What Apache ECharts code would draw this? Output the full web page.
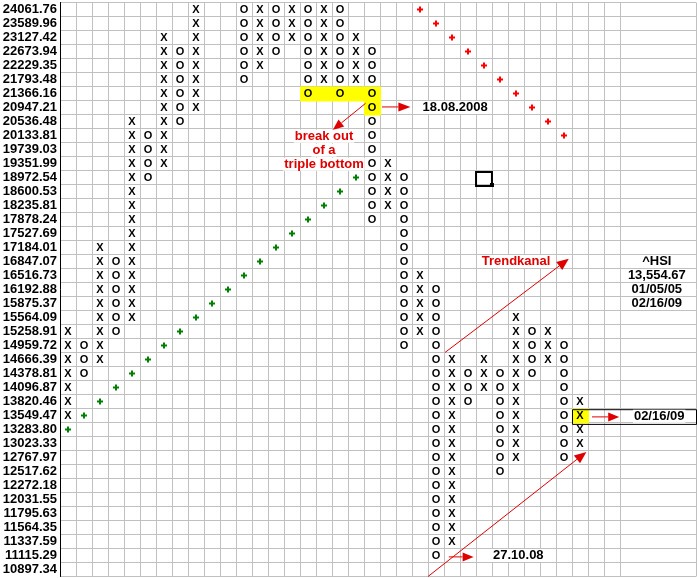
<!DOCTYPE html>
<html><head><meta charset="utf-8">
<script src="https://cdn.jsdelivr.net/npm/echarts@6/dist/echarts.min.js"></script>
<style>html,body{margin:0;padding:0;background:#fff}#c{width:697px;height:578px}</style>
</head><body><div id="c"></div>
<script>
// ---- tick labels (box prices, top to bottom) ----
const priceLabels = ['24061.76','23589.96','23127.42','22673.94','22229.35','21793.48','21366.16','20947.21','20536.48','20133.81','19739.03','19351.99','18972.54','18600.53','18235.81','17878.24','17527.69','17184.01','16847.07','16516.73','16192.88','15875.37','15564.09','15258.91','14959.72','14666.39','14378.81','14096.87','13820.46','13549.47','13283.80','13023.33','12767.97','12517.62','12272.18','12031.55','11795.63','11564.35','11337.59','11115.29','10897.34'];

// ---- point & figure columns ----
const colTypes = ['X','O','X','O','X','O','X','O','X',null,null,'O','X','O','X','O','X','O','X','O','X','O','X','O','X','O','X','O','X','O','X','O','X',null,null];
const colHigh  = ['15258.91','14959.72','17184.01','16847.07','20536.48','20133.81','23127.42','22673.94','24061.76',null,null,'24061.76','24061.76','24061.76','24061.76','24061.76','24061.76','24061.76','23127.42','22673.94','19351.99','18972.54','16516.73','16192.88','14666.39','14378.81','14666.39','14378.81','15564.09','15258.91','15258.91','14959.72','13820.46',null,null];
const colLow   = ['13549.47','14378.81','14666.39','15258.91','15564.09','18972.54','19351.99','20536.48','20947.21',null,null,'21793.48','22229.35','22673.94','23127.42','21366.16','21793.48','21366.16','21793.48','17878.24','18235.81','14959.72','15258.91','11115.29','11337.59','13820.46','14096.87','12517.62','12767.97','14378.81','14666.39','12767.97','13023.33',null,null];

// ---- trend lines of "+" marks ----
const greenPlusCols = [0,1,2,3,4,5,6,7,8,9,10,11,12,13,14,15,16,17,18];
const greenPlusVals = ['13283.80','13549.47','13820.46','14096.87','14378.81','14666.39','14959.72','15258.91','15564.09','15875.37','16192.88','16516.73','16847.07','17184.01','17527.69','17878.24','18235.81','18600.53','18972.54'];
const redPlusCols = [22,23,24,25,26,27,28,29,30,31];
const redPlusVals = ['24061.76','23589.96','23127.42','22673.94','22229.35','21793.48','21366.16','20947.21','20536.48','20133.81'];

// ---- highlighted boxes ----
const hlCols = [15,16,17,18,19,19,32];
const hlVals = ['21366.16','21366.16','21366.16','21366.16','21366.16','20947.21','13549.47'];

// ---- info texts ----
const infoLines = ['^HSI','13,554.67','01/05/05','02/16/09'];

const FONT = '"Liberation Sans", Arial, sans-serif';
const rowOf = p => priceLabels.indexOf(p);
const colIdx = colTypes.map((_, i) => String(i));

const cells = [];
colTypes.forEach((t, c) => {
  if (!t) return;
  const a = rowOf(colHigh[c]), b = rowOf(colLow[c]);
  for (let r = a; r <= b; r++) cells.push([c, r, t]);
});
const greens = greenPlusCols.map((c, i) => [c, rowOf(greenPlusVals[i])]);
const reds = redPlusCols.map((c, i) => [c, rowOf(redPlusVals[i])]);
const hls = hlCols.map((c, i) => [c, rowOf(hlVals[i])]);

const chart = echarts.init(document.getElementById('c'), null, {renderer: 'canvas'});
const gridLine = {show: true, interval: 0, lineStyle: {color: '#c0c0c0', width: 1}};

function plusItem(color) {
  return function (params, api) {
    const p = api.coord([api.value(0), api.value(1)]);
    return {type: 'group', children: [
      {type: 'rect', shape: {x: p[0] - 3, y: p[1] - 1, width: 6, height: 2}, style: {fill: color}},
      {type: 'rect', shape: {x: p[0] - 1, y: p[1] - 3, width: 2, height: 6}, style: {fill: color}}
    ]};
  };
}

function arrow(P, a, b, color, hl, hw) {
  const A = P(a[0], a[1]), B = P(b[0], b[1]);
  const dx = B[0] - A[0], dy = B[1] - A[1], L = Math.hypot(dx, dy);
  const ux = dx / L, uy = dy / L;
  const bx = B[0] - ux * hl, by = B[1] - uy * hl;
  return [
    {type: 'line', shape: {x1: A[0], y1: A[1], x2: bx, y2: by}, style: {stroke: color, lineWidth: 1}},
    {type: 'polygon', shape: {points: [[B[0], B[1]], [bx - uy * hw / 2, by + ux * hw / 2], [bx + uy * hw / 2, by - ux * hw / 2]]}, style: {fill: color}}
  ];
}
function txt(P, u, v, s, color, align, bg) {
  const p = P(u, v);
  return {type: 'text', style: {text: s, x: p[0], y: p[1], align: align || 'center', verticalAlign: 'middle',
    font: 'bold 13px ' + FONT, fill: color, backgroundColor: bg ? '#fff' : null, padding: bg ? [0, 1] : 0, lineHeight: 13}};
}

const option = {
  animation: false,
  backgroundColor: '#fff',
  grid: [
    {left: 60, top: 2.5, width: 560, height: 574, outerBoundsMode: 'none', containLabel: false},
    {left: 620, top: 2.5, width: 76, height: 574, outerBoundsMode: 'none', containLabel: false}
  ],
  xAxis: [
    {type: 'category', gridIndex: 0, data: colIdx, boundaryGap: true, axisLine: {show: false}, axisTick: {show: false}, axisLabel: {show: false}, splitLine: gridLine},
    {type: 'category', gridIndex: 1, data: ['r'], boundaryGap: true, axisLine: {show: false}, axisTick: {show: false}, axisLabel: {show: false}, splitLine: gridLine}
  ],
  yAxis: [
    {type: 'category', gridIndex: 0, data: priceLabels, inverse: true, boundaryGap: true,
      axisLine: {show: true, lineStyle: {color: '#000', width: 1}}, axisTick: {show: false},
      axisLabel: {interval: 0, margin: 3, fontSize: 13, fontWeight: 'bold', color: '#000', fontFamily: FONT},
      splitLine: gridLine},
    {type: 'category', gridIndex: 1, data: priceLabels, inverse: true, boundaryGap: true,
      axisLine: {show: false}, axisTick: {show: false}, axisLabel: {show: false}, splitLine: gridLine}
  ],
  series: [
    {type: 'custom', name: 'highlight', xAxisIndex: 0, yAxisIndex: 0, data: hls, clip: false,
      renderItem: (params, api) => {
        const p = api.coord([api.value(0), api.value(1)]);
        const s = api.size([1, 1]);
        return {type: 'rect', shape: {x: p[0] - s[0] / 2, y: p[1] - s[1] / 2, width: s[0] + 1, height: s[1] + 1}, style: {fill: '#ffff00'}};
      }},
    {type: 'custom', name: 'support', xAxisIndex: 0, yAxisIndex: 0, data: greens, clip: false, renderItem: plusItem('#008000')},
    {type: 'custom', name: 'resistance', xAxisIndex: 0, yAxisIndex: 0, data: reds, clip: false, renderItem: plusItem('#ff0000')},
    {type: 'custom', name: 'boxes', xAxisIndex: 0, yAxisIndex: 0, data: cells.map(d => [d[0], d[1]]), clip: false,
      renderItem: (params, api) => {
        const p = api.coord([api.value(0), api.value(1)]);
        return {type: 'text', style: {text: cells[params.dataIndex][2], x: p[0], y: p[1] + 0.5, align: 'center', verticalAlign: 'middle',
          font: 'bold 11px ' + FONT, fill: '#000'}};
      }},
    {type: 'custom', name: 'notes', xAxisIndex: 0, yAxisIndex: 0, data: [[0, 0]], clip: false,
      renderItem: (params, api) => {
        const o = api.coord([0, 0]);
        const s = api.size([1, 1]);
        const sw = Math.abs(s[0]), sh = Math.abs(s[1]);
        const P = (u, v) => [o[0] + (u - 0.5) * sw, o[1] + (v - 0.5) * sh];
        const red = '#e00000';
        const ch = [];
        // 18.08.2008
        ch.push(...arrow(P, [20.125, 7.46], [21.9, 7.46], red, 12, 9));
        ch.push(txt(P, 22.6, 7.5, '18.08.2008', '#000', 'left', true));
        // break out of a triple bottom
        ch.push(...arrow(P, [19.1, 7.2], [17.05, 9.1], red, 11, 9));
        ch.push(txt(P, 16.5, 9.55, 'break out', red, 'center', true));
        ch.push(txt(P, 16.5, 10.55, 'of a', red, 'center', true));
        ch.push(txt(P, 16.5, 11.55, 'triple bottom', red, 'center', true));
        // Trendkanal
        ch.push(...arrow(P, [24.06, 25.0], [31.8, 18.3], red, 12, 10));
        ch.push(txt(P, 28.5, 18.5, 'Trendkanal', red, 'center', true));
        ch.push(...arrow(P, [23.0, 41.0], [32.9, 32.1], red, 12, 10));
        // 27.10.08
        ch.push(...arrow(P, [24.3, 39.6], [25.85, 39.6], red, 11, 9));
        ch.push(txt(P, 27.0, 39.5, '27.10.08', '#000', 'left', true));
        // 02/16/09 box
        const b0 = P(32, 29.05), b1 = P(39.75, 30.1);
        ch.push({type: 'rect', shape: {x: b0[0] + 0.5, y: b0[1] + 0.5, width: b1[0] - b0[0], height: b1[1] - b0[1]}, style: {fill: null, stroke: '#000', lineWidth: 1}});
        ch.push(...arrow(P, [33.25, 29.6], [34.95, 29.6], red, 11, 9));
        ch.push(txt(P, 37.45, 29.55, '02/16/09', '#000', 'center', true));
        // info block
        infoLines.forEach((s2, i) => ch.push(txt(P, 37.3, 18.5 + i, s2, '#000', 'center', false)));
        // small square icon
        const q0 = P(25.94, 12.04), q1 = P(27.06, 13.18);
        ch.push({type: 'rect', shape: {x: q0[0] + 1, y: q0[1] + 1, width: q1[0] - q0[0] - 2, height: q1[1] - q0[1] - 2}, style: {fill: null, stroke: '#000', lineWidth: 2}});
        ch.push({type: 'rect', shape: {x: q1[0] - 3, y: q1[1] - 4, width: 4, height: 4}, style: {fill: '#000'}});
        return {type: 'group', children: ch};
      }}
  ]
};
chart.setOption(option);
</script>
</body></html>
